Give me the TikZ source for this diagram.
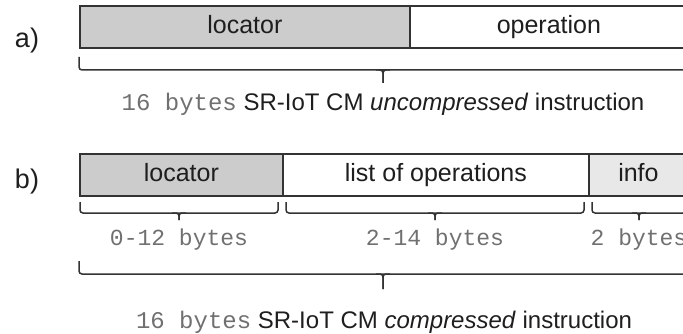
\documentclass[tikz,border=0pt]{standalone}
\usepackage{fontspec}
\setmainfont{Liberation Sans}
\setmonofont{Liberation Mono}
\definecolor{bordc}{HTML}{333333}
\definecolor{locfill}{HTML}{CCCCCC}
\definecolor{infofill}{HTML}{E8E8E8}
\definecolor{monoc}{HTML}{707070}
\definecolor{txtc}{HTML}{1E1E1E}
\newcommand\drawbr[5]{%
  \draw[bracepath, rounded corners=3pt] (#1,#3) -- (#1,#4) -- (#2,#4) -- (#2,#3);
  \draw[bracepath, rounded corners=3pt] ({(#1+#2)/2-7},#4) -- ({(#1+#2)/2},#4) -- ({(#1+#2)/2},#5);
  \draw[bracepath, rounded corners=3pt] ({(#1+#2)/2+7},#4) -- ({(#1+#2)/2},#4) -- ({(#1+#2)/2},#5);
}
\tikzset{
  field/.style={draw=bordc, line width=1.8pt, minimum height=42pt, inner sep=0pt,
    anchor=north west, font=\fontsize{25}{30}\selectfont, text=txtc,
    text height=18pt, text depth=5pt},
  bracepath/.style={draw=bordc, line width=1.5pt},
  lbl/.style={font=\fontsize{27}{32}\selectfont, text=txtc},
  bytes/.style={font=\ttfamily\fontsize{23}{28}\selectfont, text=monoc},
  capt/.style={font=\fontsize{24}{28}\selectfont, text=txtc, anchor=base, inner sep=0pt},
}
\begin{document}
\begin{tikzpicture}[x=1pt,y=-1pt]
\useasboundingbox (0,0) rectangle (683,334);
\clip (0,0) rectangle (683,334);
% a)
\node[lbl] (la) at (27,41) {a)};
\node[field, fill=locfill, minimum width=330pt] (aloc) at (79,5.5) {locator};
\node[field, fill=white, minimum width=278pt] (aop) at (409,5.5) {operation};
\drawbr{79}{687}{57}{70}{83}
\node[capt] (capa) at (383,111) {{\ttfamily\color{monoc}16 bytes} SR-IoT CM \textit{uncompressed} instruction};
% b)
\node[lbl] (lb) at (27,182) {b)};
\node[field, fill=locfill, minimum width=203pt] (bloc) at (79,153) {locator};
\node[field, fill=white, minimum width=306pt] (blist) at (282,153) {list of operations};
\node[field, fill=infofill, minimum width=99pt] (binfo) at (588,153) {info};
\drawbr{80}{278}{202}{213}{220}
\drawbr{286}{584}{202}{213}{220}
\drawbr{592}{686}{202}{213}{220}
\node[bytes] (by1) at (179,240) {0-12 bytes};
\node[bytes] (by2) at (435,240) {2-14 bytes};
\node[bytes] (by3) at (639,240) {2 bytes};
\drawbr{79}{687}{261}{274}{289}
\node[capt] (capb) at (384,328.5) {{\ttfamily\color{monoc}16 bytes} SR-IoT CM \textit{compressed} instruction};
\end{tikzpicture}
\end{document}
